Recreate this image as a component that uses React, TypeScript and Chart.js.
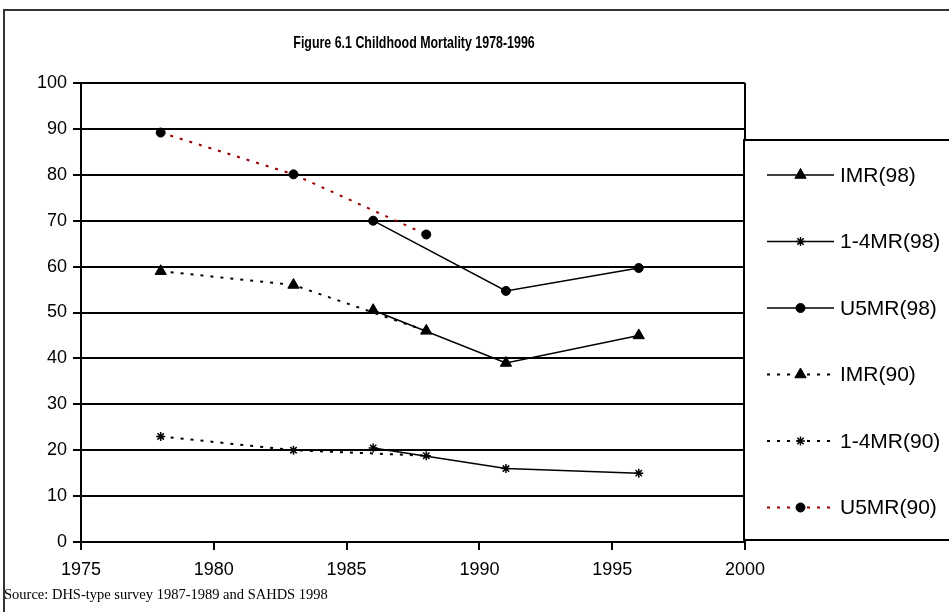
import React, { useEffect, useRef } from 'react';
import { Chart, registerables } from 'chart.js';
import { drawPoint } from 'chart.js/helpers';

Chart.register(...registerables);

const chartTitle = 'Figure 6.1 Childhood Mortality 1978-1996';
const sourceNote = 'Source: DHS-type survey 1987-1989 and SAHDS 1998';

const xTicks = [1975, 1980, 1985, 1990, 1995, 2000];
const yTicks = [0, 10, 20, 30, 40, 50, 60, 70, 80, 90, 100];

const seriesNames = ['IMR(98)', '1-4MR(98)', 'U5MR(98)', 'IMR(90)', '1-4MR(90)', 'U5MR(90)'];
const years98 = [1986, 1991, 1996];
const years90 = [1978, 1983, 1988];
const imr98 = [50.5, 39, 45];
const cmr98 = [20.5, 16, 15];
const u5mr98 = [70, 54.7, 59.7];
const imr90 = [59, 56, 46];
const cmr90 = [23, 20, 18.8];
const u5mr90 = [89.2, 80.1, 67];

const FONT = "'Liberation Sans', Arial, sans-serif";

type Style = { color: string; dash: number[]; width: number; point: string; radius: number; pw: number };

const solid = (point: string, radius: number, pw: number): Style => ({ color: '#000000', dash: [], width: 1.5, point, radius, pw });
const dotted = (color: string, point: string, radius: number, pw: number): Style => ({ color, dash: [3, 7], width: 2, point, radius, pw });

function makeSet(label: string, years: number[], vals: number[], s: Style) {
  return {
    label,
    data: years.map((x, i) => ({ x, y: vals[i] })),
    borderColor: s.color,
    borderDash: s.dash,
    borderWidth: s.width,
    pointStyle: s.point,
    pointRadius: s.radius,
    pointHoverRadius: s.radius,
    pointBackgroundColor: '#000000',
    pointBorderColor: '#000000',
    pointBorderWidth: s.pw,
    fill: false,
    tension: 0,
  };
}

const decorPlugin = {
  id: 'decor',
  beforeDraw(chart: any) {
    const ctx = chart.ctx;
    ctx.save();
    ctx.fillStyle = '#ffffff';
    ctx.fillRect(0, 0, chart.width, chart.height);
    ctx.strokeStyle = '#333333';
    ctx.lineWidth = 2;
    ctx.beginPath();
    ctx.moveTo(4, chart.height + 5);
    ctx.lineTo(4, 10);
    ctx.lineTo(chart.width + 5, 10);
    ctx.stroke();
    ctx.restore();
  },
  afterDraw(chart: any) {
    const ctx = chart.ctx;
    const area = chart.chartArea;
    ctx.save();
    // plot right border
    ctx.strokeStyle = '#000000';
    ctx.lineWidth = 2;
    ctx.beginPath();
    ctx.moveTo(area.right, area.top);
    ctx.lineTo(area.right, area.bottom);
    ctx.stroke();

    // title (condensed bold)
    ctx.fillStyle = '#000000';
    ctx.font = `bold 17px ${FONT}`;
    ctx.textBaseline = 'alphabetic';
    ctx.textAlign = 'center';
    ctx.save();
    ctx.translate(414, 48);
    ctx.scale(0.73, 1);
    ctx.fillText(chartTitle, 0, 0);
    ctx.restore();

    // legend box
    const bx = area.right - 1;
    const by = 140;
    const bb = 540;
    ctx.fillStyle = '#ffffff';
    ctx.fillRect(bx, by, chart.width - bx + 10, bb - by);
    ctx.strokeStyle = '#000000';
    ctx.lineWidth = 2;
    ctx.strokeRect(bx, by, chart.width - bx + 10, bb - by);

    const datasets = chart.data.datasets;
    datasets.forEach((ds: any, i: number) => {
      const y = 175 + i * 66.5;
      ctx.save();
      ctx.strokeStyle = ds.borderColor;
      ctx.lineWidth = ds.borderWidth;
      ctx.setLineDash(ds.borderDash || []);
      ctx.beginPath();
      ctx.moveTo(767, y);
      ctx.lineTo(834, y);
      ctx.stroke();
      ctx.restore();
      ctx.save();
      ctx.fillStyle = ds.pointBackgroundColor;
      ctx.strokeStyle = ds.pointBorderColor;
      ctx.lineWidth = ds.pointBorderWidth;
      drawPoint(ctx, { pointStyle: ds.pointStyle, radius: ds.pointRadius, rotation: 0, borderWidth: ds.pointBorderWidth }, 800.5, y);
      ctx.restore();
      ctx.fillStyle = '#000000';
      ctx.font = `21px ${FONT}`;
      ctx.textAlign = 'left';
      ctx.textBaseline = 'middle';
      ctx.fillText(ds.label, 840, y + 1);
    });
    ctx.restore();
  },
};

export default function App() {
  const ref = useRef<HTMLCanvasElement | null>(null);

  useEffect(() => {
    if (!ref.current) return;
    const datasets = [
      makeSet(seriesNames[0], years98, imr98, solid('triangle', 6.5, 1)),
      makeSet(seriesNames[1], years98, cmr98, solid('star', 4.5, 1.5)),
      makeSet(seriesNames[2], years98, u5mr98, solid('circle', 4.5, 1)),
      makeSet(seriesNames[3], years90, imr90, dotted('#000000', 'triangle', 6.5, 1)),
      makeSet(seriesNames[4], years90, cmr90, dotted('#000000', 'star', 4.5, 1.5)),
      makeSet(seriesNames[5], years90, u5mr90, dotted('#990000', 'circle', 4.5, 1)),
    ];
    const chart = new Chart(ref.current, {
      type: 'line',
      data: { datasets } as any,
      options: {
        animation: false,
        responsive: false,
        devicePixelRatio: 1,
        layout: { padding: { top: 83, right: 204, left: 0, bottom: 0 } },
        plugins: {
          legend: { display: false },
          title: { display: false },
          tooltip: { enabled: false },
        },
        scales: {
          x: {
            type: 'linear',
            min: xTicks[0],
            max: xTicks[xTicks.length - 1],
            afterBuildTicks: (s: any) => {
              s.ticks = xTicks.map((v) => ({ value: v }));
            },
            afterFit: (s: any) => {
              s.height = 70;
            },
            ticks: {
              color: '#000000',
              font: { family: FONT, size: 18 },
              padding: 9,
              maxRotation: 0,
              callback: (v: any) => String(v),
            },
            grid: { display: true, drawOnChartArea: false, drawTicks: true, tickLength: 8, color: '#000000', lineWidth: 2 },
            border: { display: true, color: '#000000', width: 2 },
          },
          y: {
            type: 'linear',
            min: yTicks[0],
            max: yTicks[yTicks.length - 1],
            afterBuildTicks: (s: any) => {
              s.ticks = yTicks.map((v) => ({ value: v }));
            },
            afterFit: (s: any) => {
              s.width = 81;
            },
            ticks: {
              color: '#000000',
              font: { family: FONT, size: 18 },
              padding: 6,
              callback: (v: any) => String(v),
            },
            grid: { display: true, drawTicks: true, tickLength: 8, color: '#000000', lineWidth: 2 },
            border: { display: true, color: '#000000', width: 2 },
          },
        },
      } as any,
      plugins: [decorPlugin],
    });
    return () => chart.destroy();
  }, []);

  return (
    <div style={{ position: 'absolute', left: 0, top: 0, width: 949, height: 612, background: '#fff', overflow: 'hidden' }}>
      <canvas ref={ref} width={949} height={612} style={{ display: 'block' }} />
      <div
        style={{
          position: 'absolute',
          left: 4,
          top: 587,
          fontFamily: "'Liberation Serif', 'Times New Roman', serif",
          fontSize: '14.5px',
          lineHeight: '14.5px',
          color: '#000',
          whiteSpace: 'nowrap',
        }}
      >
        {sourceNote}
      </div>
    </div>
  );
}
